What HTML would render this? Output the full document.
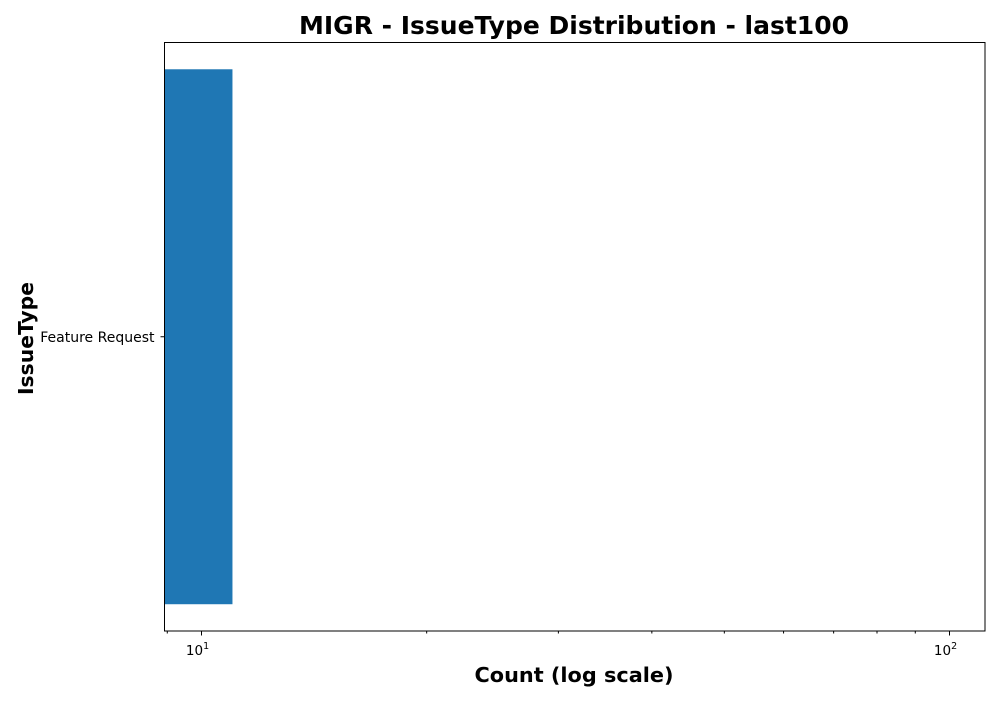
<!DOCTYPE html>
<html><head><meta charset="utf-8"><style>
body{margin:0;background:#fff;font-family:"DejaVu Sans","Liberation Sans",sans-serif;}
svg text{font-family:"DejaVu Sans","Liberation Sans",sans-serif;}
</style></head><body>
<svg width="1000" height="700" xmlns="http://www.w3.org/2000/svg">
<rect width="1000" height="700" fill="#fff"/>
<text x="574" y="34" font-size="24.5" font-weight="bold" text-anchor="middle" textLength="550" lengthAdjust="spacingAndGlyphs">MIGR - IssueType Distribution - last100</text>
<g id="plot"></g>
<rect x="164.5" y="42.5" width="820.5" height="588.5" fill="none" stroke="#000" stroke-width="1"/>
<text x="574" y="682" font-size="20.5" font-weight="bold" text-anchor="middle" textLength="199" lengthAdjust="spacingAndGlyphs">Count (log scale)</text>
<text transform="translate(33,338.5) rotate(-90)" font-size="20.5" font-weight="bold" text-anchor="middle" textLength="113" lengthAdjust="spacingAndGlyphs">IssueType</text>
</svg>
<script>
const categories = ["Feature Request"];
const counts = [11];
const majorTicks = [10, 100];
const minorTicks = [9, 20, 30, 40, 50, 60, 70, 80, 90];
const NS = "http://www.w3.org/2000/svg";
const plotG = document.getElementById('plot');
const xA = 201.5, xB = 949.5;
const xs = v => xA + (Math.log10(v) - 1) * (xB - xA);
const plotLeft = 164.5, plotTop = 42.5, plotBottom = 631;
const nCat = categories.length;
const band = (plotBottom - plotTop) / nCat;
function mk(t, a){const e=document.createElementNS(NS,t);for(const k in a)e.setAttribute(k,a[k]);plotG.appendChild(e);return e;}
categories.forEach((c,i)=>{
  const cy = plotTop + band*(i+0.5);
  const h = band*0.909;
  const r = mk('rect',{x:plotLeft,y:cy-h/2,width:Math.max(0,xs(counts[i])-plotLeft),height:h,fill:'#1f77b4'});
  
  
  const tk = mk('line',{x1:plotLeft-4,x2:plotLeft,y1:cy,y2:cy,stroke:'#000'});
  
  
  const t = mk('text',{x:plotLeft-10,y:cy+5,'font-size':14,'text-anchor':'end'});
  t.textContent = c;
  
  
});
majorTicks.forEach(v=>{
  const x = xs(v);
  const l = mk('line',{x1:x,x2:x,y1:631,y2:635.5,stroke:'#000'});
  
  
  const t = mk('text',{x:x-4,y:655,'font-size':13.5,'text-anchor':'middle'});
  t.innerHTML = '10<tspan dy="-6" font-size="9.5">'+Math.round(Math.log10(v))+'</tspan>';
  
  
});
minorTicks.forEach(v=>{
  const x = xs(v);
  const l = mk('line',{x1:x,x2:x,y1:631,y2:633.5,stroke:'#000'});
  
  
});
</script>
</body></html>
